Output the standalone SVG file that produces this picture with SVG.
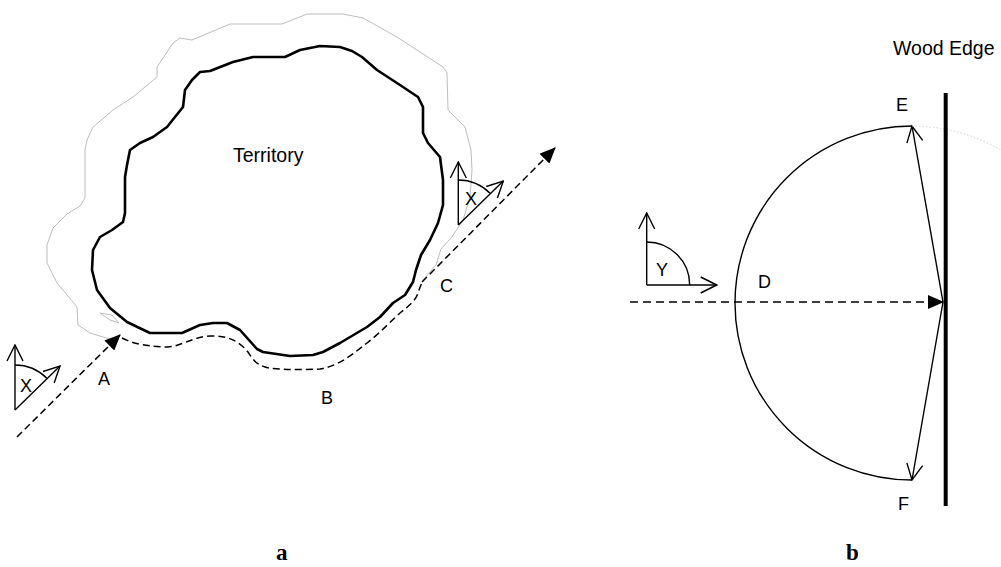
<svg xmlns="http://www.w3.org/2000/svg" width="1001" height="567" viewBox="0 0 1001 567">
<style>
.t{font-family:"Liberation Sans",Arial,sans-serif;font-size:18px;fill:#000}
.big{font-size:19.5px}
.cap{font-family:"Liberation Serif","Times New Roman",serif;font-weight:bold;font-size:23px;fill:#000}
.thin{fill:none;stroke:#000;stroke-width:1.4}
.dash{fill:none;stroke:#000;stroke-width:1.5;stroke-dasharray:7 4}
.terr{fill:none;stroke:#000;stroke-width:2.6;stroke-linejoin:round}
.zone{fill:none;stroke:#bdbdbd;stroke-width:1}
</style>
<defs>
<marker id="fill" viewBox="0 0 16 14" refX="15" refY="7" markerWidth="16" markerHeight="14" orient="auto" markerUnits="userSpaceOnUse">
<path d="M0,0 L16,7 L0,14 Z" fill="#000"/>
</marker>
<marker id="open" viewBox="0 0 18 18" refX="17" refY="9" markerWidth="18" markerHeight="18" orient="auto" markerUnits="userSpaceOnUse">
<path d="M1,1 L17,9 L1,17" fill="none" stroke="#000" stroke-width="1.4"/>
</marker>
</defs>
<rect width="1001" height="567" fill="#fff"/>

<g id="zone">
<path class="zone" d="M113,340 L103,337 L90,333 L78,325 L77,307 L73,302 L57,283 L47,263 L47,245 L53,228 L67,214 L80,206 L85,198 L85,150 L87,140 L93,127 L113,110 L133,97 L157,77 L157,67 L173,43 L180,38 L192,40 L230,24 L282,24 L307,14 L343,14 L363,18 L397,37 L443,67 L447,73 L448,110 L465,127 L471,150 L472,170 L470,197 L463,220 L452,237 L441,249 L436,265 L423,280"/>
<path class="zone" d="M100,313 L112,315 L119,323 L110,320 Z"/>
</g>

<g id="territory">
<path class="terr" d="M200,72 L210,71 L233,62 L253,57 L285,57 L300,50 L320,46 L340,47 L352,51 L362,57 L377,70 L400,85 L418,97 L423,107 L423,133 L428,143 L440,157 L443,180 L443,205 L438,223 L430,240 L421,255 L416,270 L413,282 L405,295 L393,303 L380,317 L367,327 L340,343 L323,352 L313,355 L290,356 L263,352 L257,349 L240,330 L227,323 L213,323 L200,325 L182,333 L150,333 L127,322 L110,308 L97,290 L92,270 L93,250 L100,237 L112,230 L123,222 L125,213 L125,177 L127,165 L130,150 L140,143 L153,137 L167,127 L183,107 L185,90 L192,80 Z"/>
<text class="t big" x="233" y="162">Territory</text>
</g>

<g id="connectors">
<path class="dash" d="M17,437 L120,335" marker-end="url(#fill)"/>
<path class="dash" d="M122,338 C130,342 140,346 167,347 C180,347 192,337 210,336 C228,335 240,342 248,352 C252,358 255,364 265,367 C275,370 300,370 320,369 C340,366 355,352 367,343 C380,333 392,320 400,313 C410,305 416,300 418,293 L422,282"/>
<path class="dash" d="M422,282 L555,148" marker-end="url(#fill)"/>
<path class="dash" d="M630,302 L943,302" marker-end="url(#fill)" style="stroke-dasharray:8 5"/>
<path class="thin" d="M943,302 L912,126" marker-end="url(#open)"/>
<path class="thin" d="M943,302 L912,480" marker-end="url(#open)"/>
</g>

<g id="angleX1">
<path class="thin" d="M15,410 L15,345" marker-end="url(#open)"/>
<path class="thin" d="M15,410 L60,366" marker-end="url(#open)"/>
<path class="thin" d="M15,365 A45,45 0 0 1 46.8,378.2"/>
<text class="t" x="20" y="392">X</text>
</g>

<g id="angleX2">
<path class="thin" d="M458.3,225 L458.3,162" marker-end="url(#open)"/>
<path class="thin" d="M458.3,225 L503.3,181" marker-end="url(#open)"/>
<path class="thin" d="M458.3,180 A45,45 0 0 1 490,193.2"/>
<text class="t" x="465" y="205">X</text>
</g>

<g id="labelsA">
<text class="t" x="98" y="385">A</text>
<text class="t" x="321" y="404">B</text>
<text class="t" x="440" y="292">C</text>
<text class="cap" x="276" y="560">a</text>
</g>

<g id="angleY">
<path class="thin" d="M646.7,285 L646.7,213" marker-end="url(#open)"/>
<path class="thin" d="M646.7,285 L716.7,285" marker-end="url(#open)"/>
<path class="thin" d="M646.7,242 A43,43 0 0 1 689.7,285"/>
<text class="t" x="656" y="276">Y</text>
</g>

<g id="woodEdge">
<path d="M912,126 A177,177 0 0 1 1001,150" fill="none" stroke="#d0d0d0" stroke-width="1" stroke-dasharray="1.5 2"/>
<line x1="945.7" y1="93" x2="945.7" y2="506" stroke="#000" stroke-width="4"/>
<text class="t big" x="893" y="55">Wood Edge</text>
</g>

<g id="semicircle">
<path class="thin" d="M912,126 A177,177 0 0 0 912,480"/>
<text class="t" x="758" y="288">D</text>
<text class="t" x="896" y="111">E</text>
<text class="t" x="898" y="510">F</text>
<text class="cap" x="846" y="560">b</text>
</g>
</svg>
